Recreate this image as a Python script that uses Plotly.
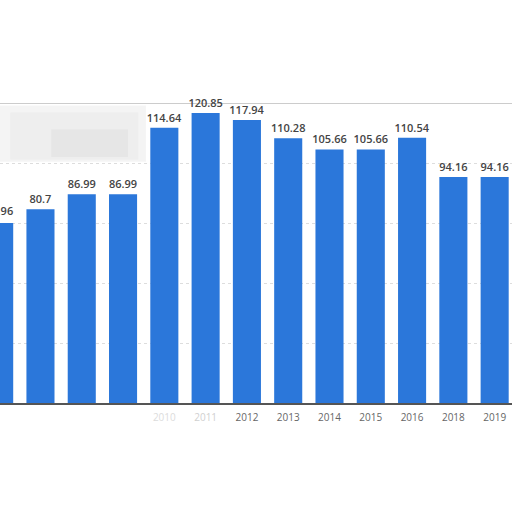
import plotly.graph_objects as go

# years and values (left bar is cut off in the reference)
years = ["2006", "2007", "2008", "2009", "2010", "2011", "2012",
         "2013", "2014", "2015", "2016", "2018", "2019"]
values = [74.96, 80.7, 86.99, 86.99, 114.64, 120.85, 117.94,
          110.28, 105.66, 105.66, 110.54, 94.16, 94.16]
value_labels = ["74.96", "80.7", "86.99", "86.99", "114.64", "120.85", "117.94",
                "110.28", "105.66", "105.66", "110.54", "94.16", "94.16"]
# first labels are torn away / faded in the reference
tick_labels = ["", "", "", "",
               "<span style='color:#dcdcdc'>2010</span>",
               "<span style='color:#d0d0d0'>2011</span>",
               "2012", "2013", "2014", "2015", "2016", "2018", "2019"]

x_range = [0.02, 12.42]
label_font = {"family": "Open Sans, Arial", "size": 11, "color": "#444444", "weight": 600}

fig = go.Figure()
fig.add_trace(
    go.Bar(
        x=years,
        y=values,
        text=[""] + value_labels[1:],
        textposition="outside",
        constraintext="none",
        cliponaxis=False,
        textfont=label_font,
        marker={"color": "#2b77da", "line": {"width": 0}},
        width=0.68,
        showlegend=False,
    )
)
# the cut-off first bar still shows part of its label (category 0 sits just off the left edge)
first_x = (0 - x_range[0]) / (x_range[1] - x_range[0])
fig.add_annotation(xref="paper", x=first_x, yref="y", y=values[0], text=value_labels[0],
                   showarrow=False, xanchor="center", yanchor="bottom", yshift=3,
                   font=label_font)

# blurred patch in the upper left corner
fig.add_shape(type="rect", xref="paper", yref="y", x0=0, x1=0.285, y0=100.5, y1=124,
              fillcolor="rgba(200,200,200,0.2)", line={"width": 0}, layer="below")
fig.add_shape(type="rect", xref="paper", yref="y", x0=0.02, x1=0.27, y0=101.5, y1=121,
              fillcolor="rgba(190,190,190,0.1)", line={"width": 0}, layer="below")
fig.add_shape(type="rect", xref="paper", yref="y", x0=0.1, x1=0.25, y0=102.5, y1=114,
              fillcolor="rgba(170,170,170,0.1)", line={"width": 0}, layer="below")

fig.update_layout(
    width=512,
    height=512,
    margin={"l": 0, "r": 0, "t": 103, "b": 109},
    paper_bgcolor="white",
    plot_bgcolor="white",
    bargap=0.32,
    xaxis={
        "type": "category",
        "range": x_range,
        "tickmode": "array",
        "tickvals": years,
        "ticktext": tick_labels,
        "tickfont": {"family": "Open Sans, Arial", "size": 10, "color": "#666666"},
        "showline": True,
        "linecolor": "#555555",
        "linewidth": 1.5,
        "ticks": "outside",
        "ticklen": 4,
        "tickcolor": "rgba(0,0,0,0)",
        "showgrid": False,
    },
    yaxis={
        "range": [0, 125],
        "dtick": 25,
        "showticklabels": False,
        "showgrid": True,
        "gridcolor": "#dddddd",
        "griddash": "dot",
        "zeroline": False,
        "showline": False,
    },
)
# top border of the plot frame
fig.add_shape(type="line", xref="paper", yref="y", x0=0, x1=1, y0=125, y1=125,
              line={"color": "#cccccc", "width": 2}, layer="below")

fig.write_html("out.html", config={"displayModeBar": False},
               post_script="document.body.style.margin='0';")
